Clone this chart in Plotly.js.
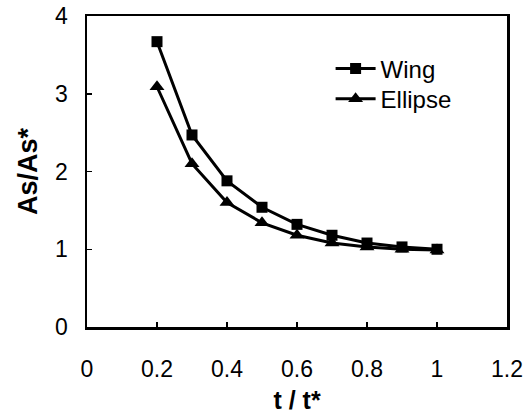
<!DOCTYPE html>
<html>
<head>
<meta charset="utf-8">
<script src="https://cdn.plot.ly/plotly-3.0.1.min.js"></script>
<style>html,body{margin:0;padding:0;background:#fff;}#chart{width:528px;height:414px;}</style>
</head>
<body>
<div id="chart"></div>
<script>
var tValues = [0.2, 0.3, 0.4, 0.5, 0.6, 0.7, 0.8, 0.9, 1.0];
var wingValues = [3.67, 2.47, 1.88, 1.54, 1.32, 1.18, 1.08, 1.03, 1.0];
var ellipseValues = [3.09, 2.10, 1.60, 1.34, 1.18, 1.08, 1.03, 1.00, 0.99];
var seriesNames = ["Wing", "Ellipse"];
var xTicks = [0, 0.2, 0.4, 0.6, 0.8, 1, 1.2];
var xTickText = ["0", "0.2", "0.4", "0.6", "0.8", "1", "1.2"];
var yTicks = [0, 1, 2, 3, 4];

var font = "Liberation Sans, Arial, sans-serif";
var traces = [
  {x: tValues, y: wingValues, name: seriesNames[0], mode: "lines+markers", legend: "legend",
   line: {color: "#000", width: 3}, marker: {symbol: "square", size: 11, color: "#000"}},
  {x: tValues, y: ellipseValues, name: seriesNames[1], mode: "lines+markers", legend: "legend2",
   line: {color: "#000", width: 3}, marker: {symbol: "triangle-up", size: 13, color: "#000"}}
];
function legendAt(y) {
  return {x: 0.58, y: y, xanchor: "left", yanchor: "middle", bgcolor: "rgba(0,0,0,0)",
          font: {family: font, size: 24, color: "#000"}, itemwidth: 40};
}
var layout = {
  width: 528, height: 414,
  margin: {l: 87, r: 21, t: 16, b: 87},
  paper_bgcolor: "#fff", plot_bgcolor: "#fff",
  showlegend: true,
  legend: legendAt(0.83),
  legend2: legendAt(0.733),
  xaxis: {range: [0, 1.2], tickvals: xTicks, ticktext: xTickText, showgrid: false, zeroline: false,
          showline: true, linecolor: "#000", linewidth: 2.5, mirror: true,
          ticks: "inside", ticklen: 5, tickwidth: 1.5, tickcolor: "#000",
          tickfont: {family: font, size: 23, color: "#000"}, ticklabelstandoff: 20,
          title: {text: "<b>t / t*</b>", font: {family: font, size: 25, color: "#000"}, standoff: 12}},
  yaxis: {range: [0, 4], tickvals: yTicks, showgrid: false, zeroline: false,
          showline: true, linecolor: "#000", linewidth: 2.5, mirror: true,
          ticks: "inside", ticklen: 5, tickwidth: 1.5, tickcolor: "#000",
          tickfont: {family: font, size: 23, color: "#000"}, ticklabelstandoff: 12,
          title: {text: "<b>As/As*</b>", font: {family: font, size: 27, color: "#000"}, standoff: 10}}
};
Plotly.newPlot("chart", traces, layout, {staticPlot: true});
</script>
</body>
</html>
